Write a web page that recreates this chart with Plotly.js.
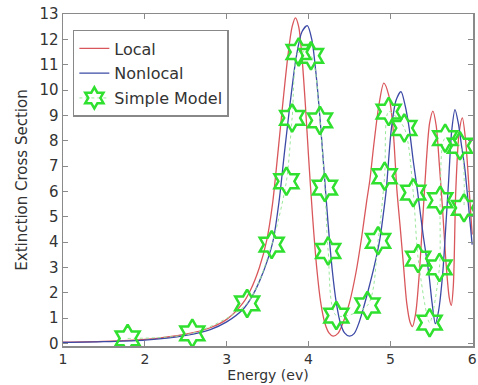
<!DOCTYPE html>
<html>
<head>
<meta charset="utf-8">
<script src="https://cdn.plot.ly/plotly-3.0.1.min.js"></script>
<style>html,body{margin:0;padding:0;background:#fff;}#chart{width:478px;height:385px;}</style>
</head>
<body>
<div id="chart"></div>
<script>
// Local (red) curve
const localE = [1.0,1.5,2.0,2.5,2.8,3.0,3.2,3.29,3.4,3.49,3.56,3.63,3.69,3.75,3.8,3.84,3.88,3.92,3.96,4.0,4.05,4.1,4.15,4.2,4.25,4.3,4.36,4.42,4.5,4.58,4.65,4.71,4.75,4.8,4.86,4.92,4.98,5.03,5.08,5.12,5.16,5.2,5.24,5.27,5.31,5.35,5.39,5.44,5.48,5.52,5.56,5.6,5.64,5.68,5.72,5.745,5.77,5.8,5.84,5.88,5.92,5.96,6.0];
const localY = [0.05,0.08,0.16,0.37,0.62,0.95,1.6,2.1,3.0,4.08,5.5,7.65,9.6,11.4,12.5,12.85,12.5,11.3,9.5,7.4,5.0,3.0,1.6,0.8,0.42,0.29,0.4,0.8,1.6,2.8,4.2,5.6,6.46,7.9,9.4,10.27,9.8,8.6,6.06,4.6,3.1,1.6,0.85,0.67,1.2,2.6,4.6,7.2,8.7,9.17,8.6,7.0,5.2,3.2,1.8,1.5,2.3,6.06,8.3,8.9,8.0,6.2,4.3];
// Nonlocal (blue) curve
const nonlocalE = [1.0,1.5,2.0,2.5,2.8,3.0,3.2,3.3,3.4,3.5,3.57,3.64,3.71,3.78,3.85,3.92,3.985,4.04,4.09,4.14,4.19,4.24,4.29,4.34,4.39,4.44,4.5,4.56,4.62,4.68,4.73,4.8,4.87,4.91,4.95,5.01,5.07,5.13,5.18,5.23,5.28,5.33,5.4,5.47,5.51,5.55,5.59,5.64,5.68,5.71,5.75,5.79,5.83,5.87,5.91,5.95,6.0];
const nonlocalY = [0.04,0.07,0.13,0.32,0.55,0.85,1.35,1.8,2.45,3.3,4.1,5.6,7.65,9.6,11.3,12.3,12.54,12.0,10.7,8.9,6.8,4.7,2.9,1.6,0.8,0.42,0.29,0.4,0.85,1.5,2.1,3.0,4.08,5.0,6.06,8.4,9.6,9.94,9.4,8.5,7.2,6.06,4.3,2.77,1.6,0.78,1.3,2.77,4.74,6.3,8.4,9.23,8.7,7.8,6.9,5.6,3.9];
// Simple Model (green stars)
const simpleE = [1.79,2.58,3.25,3.55,3.73,3.80,3.88,4.03,4.14,4.20,4.24,4.34,4.72,4.85,4.93,4.98,5.17,5.28,5.34,5.48,5.60,5.61,5.67,5.85,5.90];
const simpleY = [0.20,0.40,1.58,3.90,6.40,8.90,11.50,11.35,8.80,6.15,3.65,1.10,1.50,4.05,6.60,9.15,8.50,5.95,3.35,0.82,3.00,5.65,8.10,7.80,5.35];

const xTicks = [1,2,3,4,5,6];
const yTicks = [0,1,2,3,4,5,6,7,8,9,10,11,12,13];

const FONT = 'DejaVu Sans, sans-serif';
const traces = [
  {x: localE, y: localY, name: 'Local', mode: 'lines', legendgroup: 'a',
   line: {color: '#d9575b', width: 1.3, shape: 'spline', smoothing: 0.8}},
  {x: nonlocalE, y: nonlocalY, name: 'Nonlocal', mode: 'lines', legendgroup: 'b',
   line: {color: '#3c4aa6', width: 1.3, shape: 'spline', smoothing: 0.8}},
  {x: simpleE, y: simpleY, name: 'Simple Model', mode: 'lines+markers', legendgroup: 'c',
   line: {color: '#9be89b', width: 1, dash: 'dot', shape: 'spline', smoothing: 0.8},
   marker: {symbol: 'hexagram-open', size: 21, color: '#2fe02f', line: {color: '#2fe02f', width: 2.5}}}
];

const axisCommon = {
  showline: true, mirror: 'ticks', linecolor: '#8a8a8a', linewidth: 1.5,
  ticks: 'inside', ticklen: 5, tickcolor: '#8a8a8a', tickwidth: 1,
  showgrid: false, zeroline: false, ticklabeloverflow: 'allow',
  tickfont: {family: FONT, size: 15, color: '#333'}
};

const layout = {
  width: 478, height: 385,
  margin: {l: 63, r: 5, t: 14, b: 39},
  paper_bgcolor: '#fff', plot_bgcolor: '#fff',
  showlegend: true,
  legend: {x: 0.024, y: 0.952, xanchor: 'left', yanchor: 'top',
    bgcolor: '#fff', bordercolor: '#888', borderwidth: 1.5,
    font: {family: FONT, size: 16, color: '#333'},
    tracegroupgap: 1, itemwidth: 30, traceorder: 'grouped'},
  xaxis: Object.assign({}, axisCommon, {range: [1, 6.01], tickvals: xTicks, ticktext: xTicks.map(String),
    tickfont: {family: FONT, size: 14, color: '#333'}, ticklabelstandoff: 0,
    title: {text: 'Energy (ev)', font: {family: FONT, size: 14, color: '#333'}, standoff: 4}}),
  yaxis: Object.assign({}, axisCommon, {range: [-0.1, 13.0], tickvals: yTicks, ticktext: yTicks.map(String),
    title: {text: 'Extinction Cross Section', font: {family: FONT, size: 15, color: '#333'}, standoff: 8}})
};

Plotly.newPlot('chart', traces, layout, {displayModeBar: false, staticPlot: true});
</script>
</body>
</html>
